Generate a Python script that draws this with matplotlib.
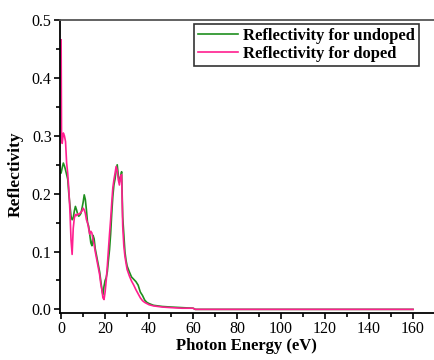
import numpy as np
import matplotlib.pyplot as plt
from matplotlib.ticker import MultipleLocator

# photon energy (eV) and reflectivity
e_undoped = [0, 0.5, 1, 1.5, 2, 2.5, 3, 3.5, 4, 4.5, 5, 5.5, 6, 6.5, 7, 7.5, 8, 8.5,
             9, 9.5, 10, 10.5, 11, 11.5, 12, 12.5, 13, 13.5, 14, 14.5, 15, 15.5, 16,
             16.5, 17, 17.5, 18, 18.5, 19, 19.5, 20, 20.5, 21, 21.5, 22, 22.5, 23,
             23.5, 24, 24.5, 25, 25.5, 26, 26.5, 27, 27.5, 28, 28.5, 29, 29.5, 30,
             31, 32, 33, 34, 35, 36, 37, 38, 39, 40, 42, 44, 46, 50, 55, 60, 61,
             80, 100, 120, 140, 160]
r_undoped = [0.236, 0.245, 0.253, 0.248, 0.241, 0.233, 0.225, 0.2, 0.18, 0.161,
             0.155, 0.158, 0.17, 0.178, 0.172, 0.165, 0.161, 0.163, 0.166, 0.175,
             0.185, 0.198, 0.19, 0.172, 0.15, 0.144, 0.13, 0.115, 0.11, 0.128,
             0.122, 0.105, 0.095, 0.085, 0.075, 0.065, 0.05, 0.035, 0.025, 0.04,
             0.05, 0.055, 0.065, 0.085, 0.103, 0.13, 0.165, 0.195, 0.215, 0.225,
             0.24, 0.25, 0.232, 0.22, 0.228, 0.238, 0.16, 0.13, 0.1, 0.085, 0.075,
             0.065, 0.056, 0.052, 0.048, 0.042, 0.03, 0.024, 0.016, 0.012, 0.01,
             0.007, 0.006, 0.005, 0.004, 0.003, 0.002, 0.0, 0.0, 0.0, 0.0, 0.0, 0.0]

e_doped = [0, 0.2, 0.5, 1, 1.5, 2, 2.5, 3, 3.5, 4, 4.5, 5, 5.5, 6, 6.5, 7, 7.5, 8,
           8.5, 9, 9.5, 10, 10.5, 11, 11.5, 12, 12.5, 13, 13.5, 14, 14.5, 15, 15.5,
           16, 16.5, 17, 17.5, 18, 18.5, 19, 19.5, 20, 20.5, 21, 21.5, 22, 22.5,
           23, 23.5, 24, 24.5, 25, 25.5, 26, 26.5, 27, 27.5, 28, 28.5, 29, 29.5,
           30, 31, 32, 33, 34, 35, 36, 37, 38, 39, 40, 42, 44, 46, 50, 55, 60, 61,
           80, 100, 120, 140, 160]
r_doped = [0.466, 0.29, 0.287, 0.305, 0.3, 0.29, 0.253, 0.235, 0.207, 0.17, 0.12,
           0.095, 0.14, 0.158, 0.164, 0.162, 0.165, 0.164, 0.166, 0.168, 0.17,
           0.175, 0.172, 0.166, 0.155, 0.15, 0.14, 0.13, 0.135, 0.132, 0.12, 0.112,
           0.1, 0.09, 0.08, 0.07, 0.06, 0.045, 0.035, 0.02, 0.017, 0.03, 0.05,
           0.075, 0.103, 0.13, 0.155, 0.184, 0.21, 0.224, 0.235, 0.247, 0.24,
           0.224, 0.215, 0.23, 0.233, 0.144, 0.11, 0.092, 0.08, 0.069, 0.058,
           0.049, 0.042, 0.034, 0.027, 0.02, 0.015, 0.012, 0.01, 0.008, 0.006,
           0.005, 0.004, 0.003, 0.002, 0.002, 0.0, 0.0, 0.0, 0.0, 0.0, 0.0]

plt.rcParams['font.family'] = ['Liberation Serif', 'DejaVu Serif']

fig = plt.figure(figsize=(4.35, 3.6), dpi=100)
ax = fig.add_axes([0.138, 0.131, 0.9, 0.813])

ax.plot(e_undoped, r_undoped, color='#1f8f1f', lw=1.2, label='Reflectivity for undoped')
ax.plot(e_doped, r_doped, color='#ff1f8f', lw=1.2, label='Reflectivity for doped')

ax.set_xlim(-0.5, 177.5)
ax.set_ylim(-0.006, 0.5)
ax.xaxis.set_minor_locator(MultipleLocator(10))
ax.yaxis.set_minor_locator(MultipleLocator(0.05))
ax.set_yticks([0, 0.1, 0.2, 0.3, 0.4, 0.5])
ax.set_yticklabels(['0.0', '0.1', '0.2', '0.3', '0.4', '0.5'])
ax.set_xticks(range(0, 161, 20))

ax.tick_params(which='both', direction='out', width=1.2, labelsize=11.5, pad=2)
ax.tick_params(which='major', length=4)
ax.tick_params(which='minor', length=3)
for s in ax.spines.values():
    s.set_linewidth(1.3)
ax.spines['top'].set_color('#555555')

ax.set_xlabel('Photon Energy (eV)', fontsize=12, fontweight='bold')
ax.set_ylabel('Reflectivity', fontsize=12.5, fontweight='bold')
ax.xaxis.set_label_coords(0.475, -0.085)
ax.yaxis.set_label_coords(-0.094, 0.474)

leg = ax.legend(loc='upper left', bbox_to_anchor=(0.342, 0.987), borderaxespad=0,
                prop={'weight': 'bold', 'size': 12}, frameon=True, fancybox=False,
                handlelength=2.4, handletextpad=0.3, borderpad=0.25, labelspacing=0.1)
leg.get_frame().set_edgecolor('black')
leg.get_frame().set_linewidth(1.2)

fig.savefig('out.png', dpi=100)
